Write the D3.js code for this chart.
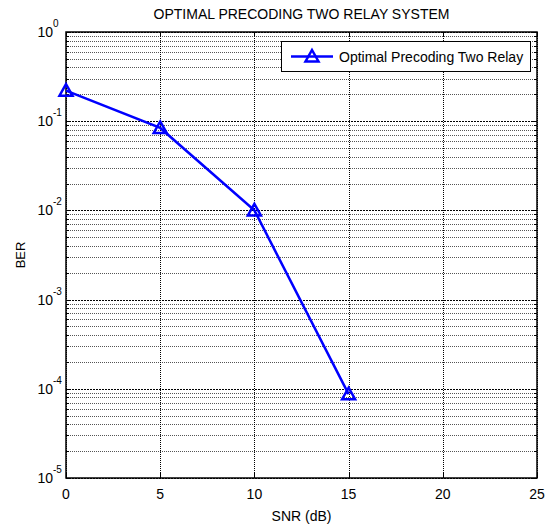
<!DOCTYPE html>
<html>
<head>
<meta charset="utf-8">
<script src="https://cdn.jsdelivr.net/npm/d3@7"></script>
<style>
	body { margin: 0; background: #fff; }
	text { font-family: Arial, 'Liberation Sans', sans-serif; fill: #000; }
</style>
</head>
<body>
<div id="chart"></div>
<script>
// data
const snr = [0, 5, 10, 15];
const ber = [0.22, 0.084, 0.01, 8.7e-5];
const seriesName = 'Optimal Precoding Two Relay';
const xTicks = [0, 5, 10, 15, 20, 25];
const yDecades = [0, -1, -2, -3, -4, -5];

const W = 552, H = 529;
const margin = {top: 32, right: 15, bottom: 51, left: 66};
const width = W - margin.left - margin.right;
const height = H - margin.top - margin.bottom;
const blue = '#0000ff';

const svg = d3.select('#chart').append('svg')
	.attr('width', W)
	.attr('height', H);

const g = svg.append('g')
	.attr('transform', `translate(${margin.left},${margin.top})`);

// scales
const x = d3.scaleLinear().domain([0, 25]).range([0, width]);
const y = d3.scaleLog().domain([1e-5, 1]).range([height, 0]);

// minor values 2..9 in each decade
const minors = [];
yDecades.slice(1).forEach(p => {
	for (let m = 2; m <= 9; m++) minors.push(m * Math.pow(10, p));
});
const majors = yDecades.map(p => Math.pow(10, p));

// grid (matlab dotted)
const grid = g.append('g').attr('class', 'grid');
grid.selectAll('.minor')
	.data(minors)
	.enter().append('line')
		.attr('x1', 0).attr('x2', width)
		.attr('y1', d => Math.round(y(d)) + 0.5)
		.attr('y2', d => Math.round(y(d)) + 0.5)
		.attr('stroke', '#555')
		.attr('stroke-dasharray', '1,1');
grid.selectAll('.major')
	.data(majors)
	.enter().append('line')
		.attr('x1', 0).attr('x2', width)
		.attr('y1', d => Math.round(y(d)) + 0.5)
		.attr('y2', d => Math.round(y(d)) + 0.5)
		.attr('stroke', '#000')
		.attr('stroke-dasharray', '2,1');
grid.selectAll('.vert')
	.data(xTicks)
	.enter().append('line')
		.attr('x1', d => Math.round(x(d)) + 0.5)
		.attr('x2', d => Math.round(x(d)) + 0.5)
		.attr('y1', 0).attr('y2', height)
		.attr('stroke', '#000')
		.attr('stroke-dasharray', '1,1');

// ticks (inward, on all sides)
const ticks = g.append('g').attr('stroke', '#000').attr('stroke-width', 1);
[0, width].forEach((edge, i) => {
	const dir = i === 0 ? 1 : -1;
	ticks.selectAll(null)
		.data(majors)
		.enter().append('line')
			.attr('x1', edge).attr('x2', edge + dir * 5)
			.attr('y1', d => Math.round(y(d)) + 0.5)
			.attr('y2', d => Math.round(y(d)) + 0.5);
	ticks.selectAll(null)
		.data(minors)
		.enter().append('line')
			.attr('x1', edge).attr('x2', edge + dir * 3)
			.attr('y1', d => Math.round(y(d)) + 0.5)
			.attr('y2', d => Math.round(y(d)) + 0.5);
});
[height, 0].forEach((edge, i) => {
	const dir = i === 0 ? -1 : 1;
	ticks.selectAll(null)
		.data(xTicks)
		.enter().append('line')
			.attr('x1', d => Math.round(x(d)) + 0.5)
			.attr('x2', d => Math.round(x(d)) + 0.5)
			.attr('y1', edge).attr('y2', edge + dir * 5);
});

// box
g.append('rect')
	.attr('x', 0).attr('y', 0)
	.attr('width', width).attr('height', height)
	.attr('fill', 'none')
	.attr('stroke', '#000')
	.attr('stroke-width', 1.5);

// x tick labels
g.append('g')
	.selectAll('text')
	.data(xTicks)
	.enter().append('text')
		.attr('x', d => x(d))
		.attr('y', height + 21)
		.attr('text-anchor', 'middle')
		.style('font-size', '14px')
		.text(d => d);

// y tick labels 10^p
const yl = g.append('g')
	.selectAll('g')
	.data(yDecades)
	.enter().append('g')
		.attr('transform', d => `translate(-13,${y(Math.pow(10, d))})`);
yl.append('text')
	.attr('y', 5)
	.attr('text-anchor', 'end')
	.style('font-size', '14px')
	.text('10');
yl.append('text')
	.attr('x', 0)
	.attr('y', -5)
	.style('font-size', '10px')
	.text(d => d);

// line + markers
const pts = snr.map((s, i) => [s, ber[i]]);
const tri = 'M0,-6.5L6.5,5L-6.5,5Z';

g.append('path')
	.datum(pts)
	.attr('fill', 'none')
	.attr('stroke', blue)
	.attr('stroke-width', 2.5)
	.attr('d', d3.line().x(d => x(d[0])).y(d => y(d[1])));

g.append('g')
	.selectAll('path')
	.data(pts)
	.enter().append('path')
		.attr('d', tri)
		.attr('transform', d => `translate(${x(d[0])},${y(d[1])})`)
		.attr('fill', 'none')
		.attr('stroke', blue)
		.attr('stroke-width', 2.5);

// legend
const legend = g.append('g')
	.attr('transform', `translate(${x(25) - 256},9)`);
legend.append('rect')
	.attr('x', 0.5).attr('y', 0.5)
	.attr('width', 249).attr('height', 30)
	.attr('fill', '#fff')
	.attr('stroke', '#000');
legend.append('line')
	.attr('x1', 10).attr('x2', 52)
	.attr('y1', 15.5).attr('y2', 15.5)
	.attr('stroke', blue)
	.attr('stroke-width', 2.5);
legend.append('path')
	.attr('d', tri)
	.attr('transform', 'translate(31,15.5)')
	.attr('fill', 'none')
	.attr('stroke', blue)
	.attr('stroke-width', 2.5);
legend.append('text')
	.attr('x', 58)
	.attr('y', 20.5)
	.style('font-size', '14px')
	.text(seriesName);

// title and axis labels
svg.append('text')
	.attr('x', margin.left + width / 2)
	.attr('y', 19)
	.attr('text-anchor', 'middle')
	.style('font-size', '14px')
	.text('OPTIMAL PRECODING TWO RELAY SYSTEM');

svg.append('text')
	.attr('x', margin.left + width / 2)
	.attr('y', 521)
	.attr('text-anchor', 'middle')
	.style('font-size', '14px')
	.text('SNR (dB)');

svg.append('text')
	.attr('transform', `translate(25,${margin.top + height / 2}) rotate(-90)`)
	.attr('text-anchor', 'middle')
	.style('font-size', '13px')
	.text('BER');
</script>
</body>
</html>
